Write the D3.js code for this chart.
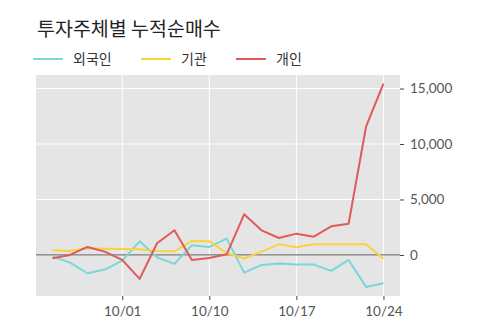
<!DOCTYPE html>
<html>
<head>
<meta charset="utf-8">
<script src="https://cdn.jsdelivr.net/npm/d3@7"></script>
<style>
  body { margin: 0; background: #fff; }
  svg { display: block; font-family: "Noto Sans CJK KR", "Noto Sans", sans-serif; }
</style>
</head>
<body>
<svg id="main-svg" width="500" height="323"></svg>
<script>
// trading days
const dates = ["09/25", "09/26", "09/27", "09/30", "10/01", "10/02", "10/04", "10/07", "10/08", "10/10",
    "10/11", "10/14", "10/15", "10/16", "10/17", "10/18", "10/21", "10/22", "10/23", "10/24"];
const tickDates = ["10/01", "10/10", "10/17", "10/24"];
const yTicks = [0, 5000, 10000, 15000];

// series values
const foreign = [-150, -690, -1650, -1320, -510, 1230, -210, -810, 870, 720,
    1470, -1590, -900, -780, -870, -870, -1440, -450, -2880, -2550];
const institution = [420, 360, 600, 570, 540, 510, 360, 330, 1260, 1230,
    180, -330, 300, 960, 690, 960, 960, 960, 960, -330];
const individual = [-300, 0, 720, 300, -450, -2160, 1050, 2220, -450, -270,
    60, 3660, 2220, 1530, 1920, 1650, 2580, 2820, 11560, 15440];

const seriesNames = ["외국인", "기관", "개인"];
const seriesColors = ["#76d8d8", "#f9d23c", "#e05a5a"];

const svg = d3.select("#main-svg");

// panel box
const panel = { left: 36, right: 400, top: 75, bottom: 296 };

const x = d3.scaleLinear()
    .domain([-0.95, dates.length - 1 + 0.95])
    .range([panel.left, panel.right]);

const y = d3.scaleLinear()
    .domain([-3700, 16220])
    .range([panel.bottom, panel.top]);

// title
svg.append("text")
    .attr("x", 37)
    .attr("y", 36)
    .attr("font-size", "19.5px")
    .attr("fill", "#222")
    .text("투자주체별 누적순매수");

// legend
const legendX = [33, 141, 236];
const legend = svg.append("g")
    .selectAll("g")
    .data(seriesNames)
    .enter().append("g")
    .attr("transform", (d, i) => `translate(${legendX[i]}, 59)`);

legend.append("line")
    .attr("x1", 0)
    .attr("x2", 30)
    .attr("stroke", (d, i) => seriesColors[i])
    .attr("stroke-width", 2);

legend.append("text")
    .attr("x", 40)
    .attr("y", 5)
    .attr("font-size", "14px")
    .attr("fill", "#333")
    .text(d => d);

// panel background
svg.append("rect")
    .attr("x", panel.left)
    .attr("y", panel.top)
    .attr("width", panel.right - panel.left)
    .attr("height", panel.bottom - panel.top)
    .attr("fill", "#e5e5e5");

// grid lines
svg.append("g")
    .selectAll("line")
    .data(yTicks)
    .enter().append("line")
    .attr("x1", panel.left)
    .attr("x2", panel.right)
    .attr("y1", d => y(d))
    .attr("y2", d => y(d))
    .attr("stroke", "#fff")
    .attr("stroke-width", 1);

svg.append("g")
    .selectAll("line")
    .data(tickDates)
    .enter().append("line")
    .attr("x1", d => x(dates.indexOf(d)))
    .attr("x2", d => x(dates.indexOf(d)))
    .attr("y1", panel.top)
    .attr("y2", panel.bottom)
    .attr("stroke", "#fff")
    .attr("stroke-width", 1);

// zero line
svg.append("line")
    .attr("x1", panel.left)
    .attr("x2", panel.right)
    .attr("y1", y(0))
    .attr("y2", y(0))
    .attr("stroke", "#777")
    .attr("stroke-width", 1.2);

// the lines
const line = d3.line()
    .x((d, i) => x(i))
    .y(d => y(d));

[foreign, institution, individual].forEach((values, i) => {
    svg.append("path")
        .datum(values)
        .attr("d", line)
        .attr("fill", "none")
        .attr("stroke", seriesColors[i])
        .attr("stroke-width", 2)
        .attr("stroke-linejoin", "round");
});

// axes
const yAxis = svg.append("g")
    .attr("transform", `translate(${panel.right},0)`)
    .call(d3.axisRight(y).tickValues(yTicks).tickFormat(d3.format(",")).tickSize(4).tickPadding(6));
yAxis.select(".domain").remove();
yAxis.selectAll("line").attr("stroke", "#444");
yAxis.selectAll("text")
    .attr("fill", "#555")
    .attr("font-size", "13.5px")
    .attr("font-family", "Lato, 'Noto Sans', sans-serif");

const xAxis = svg.append("g")
    .attr("transform", `translate(0,${panel.bottom})`)
    .call(d3.axisBottom(x)
        .tickValues(tickDates.map(d => dates.indexOf(d)))
        .tickFormat(i => dates[i])
        .tickSize(4)
        .tickPadding(6));
xAxis.select(".domain").remove();
xAxis.selectAll("line").attr("stroke", "#444");
xAxis.selectAll("text")
    .attr("fill", "#555")
    .attr("font-size", "13.5px")
    .attr("font-family", "Lato, 'Noto Sans', sans-serif");
</script>
</body>
</html>
